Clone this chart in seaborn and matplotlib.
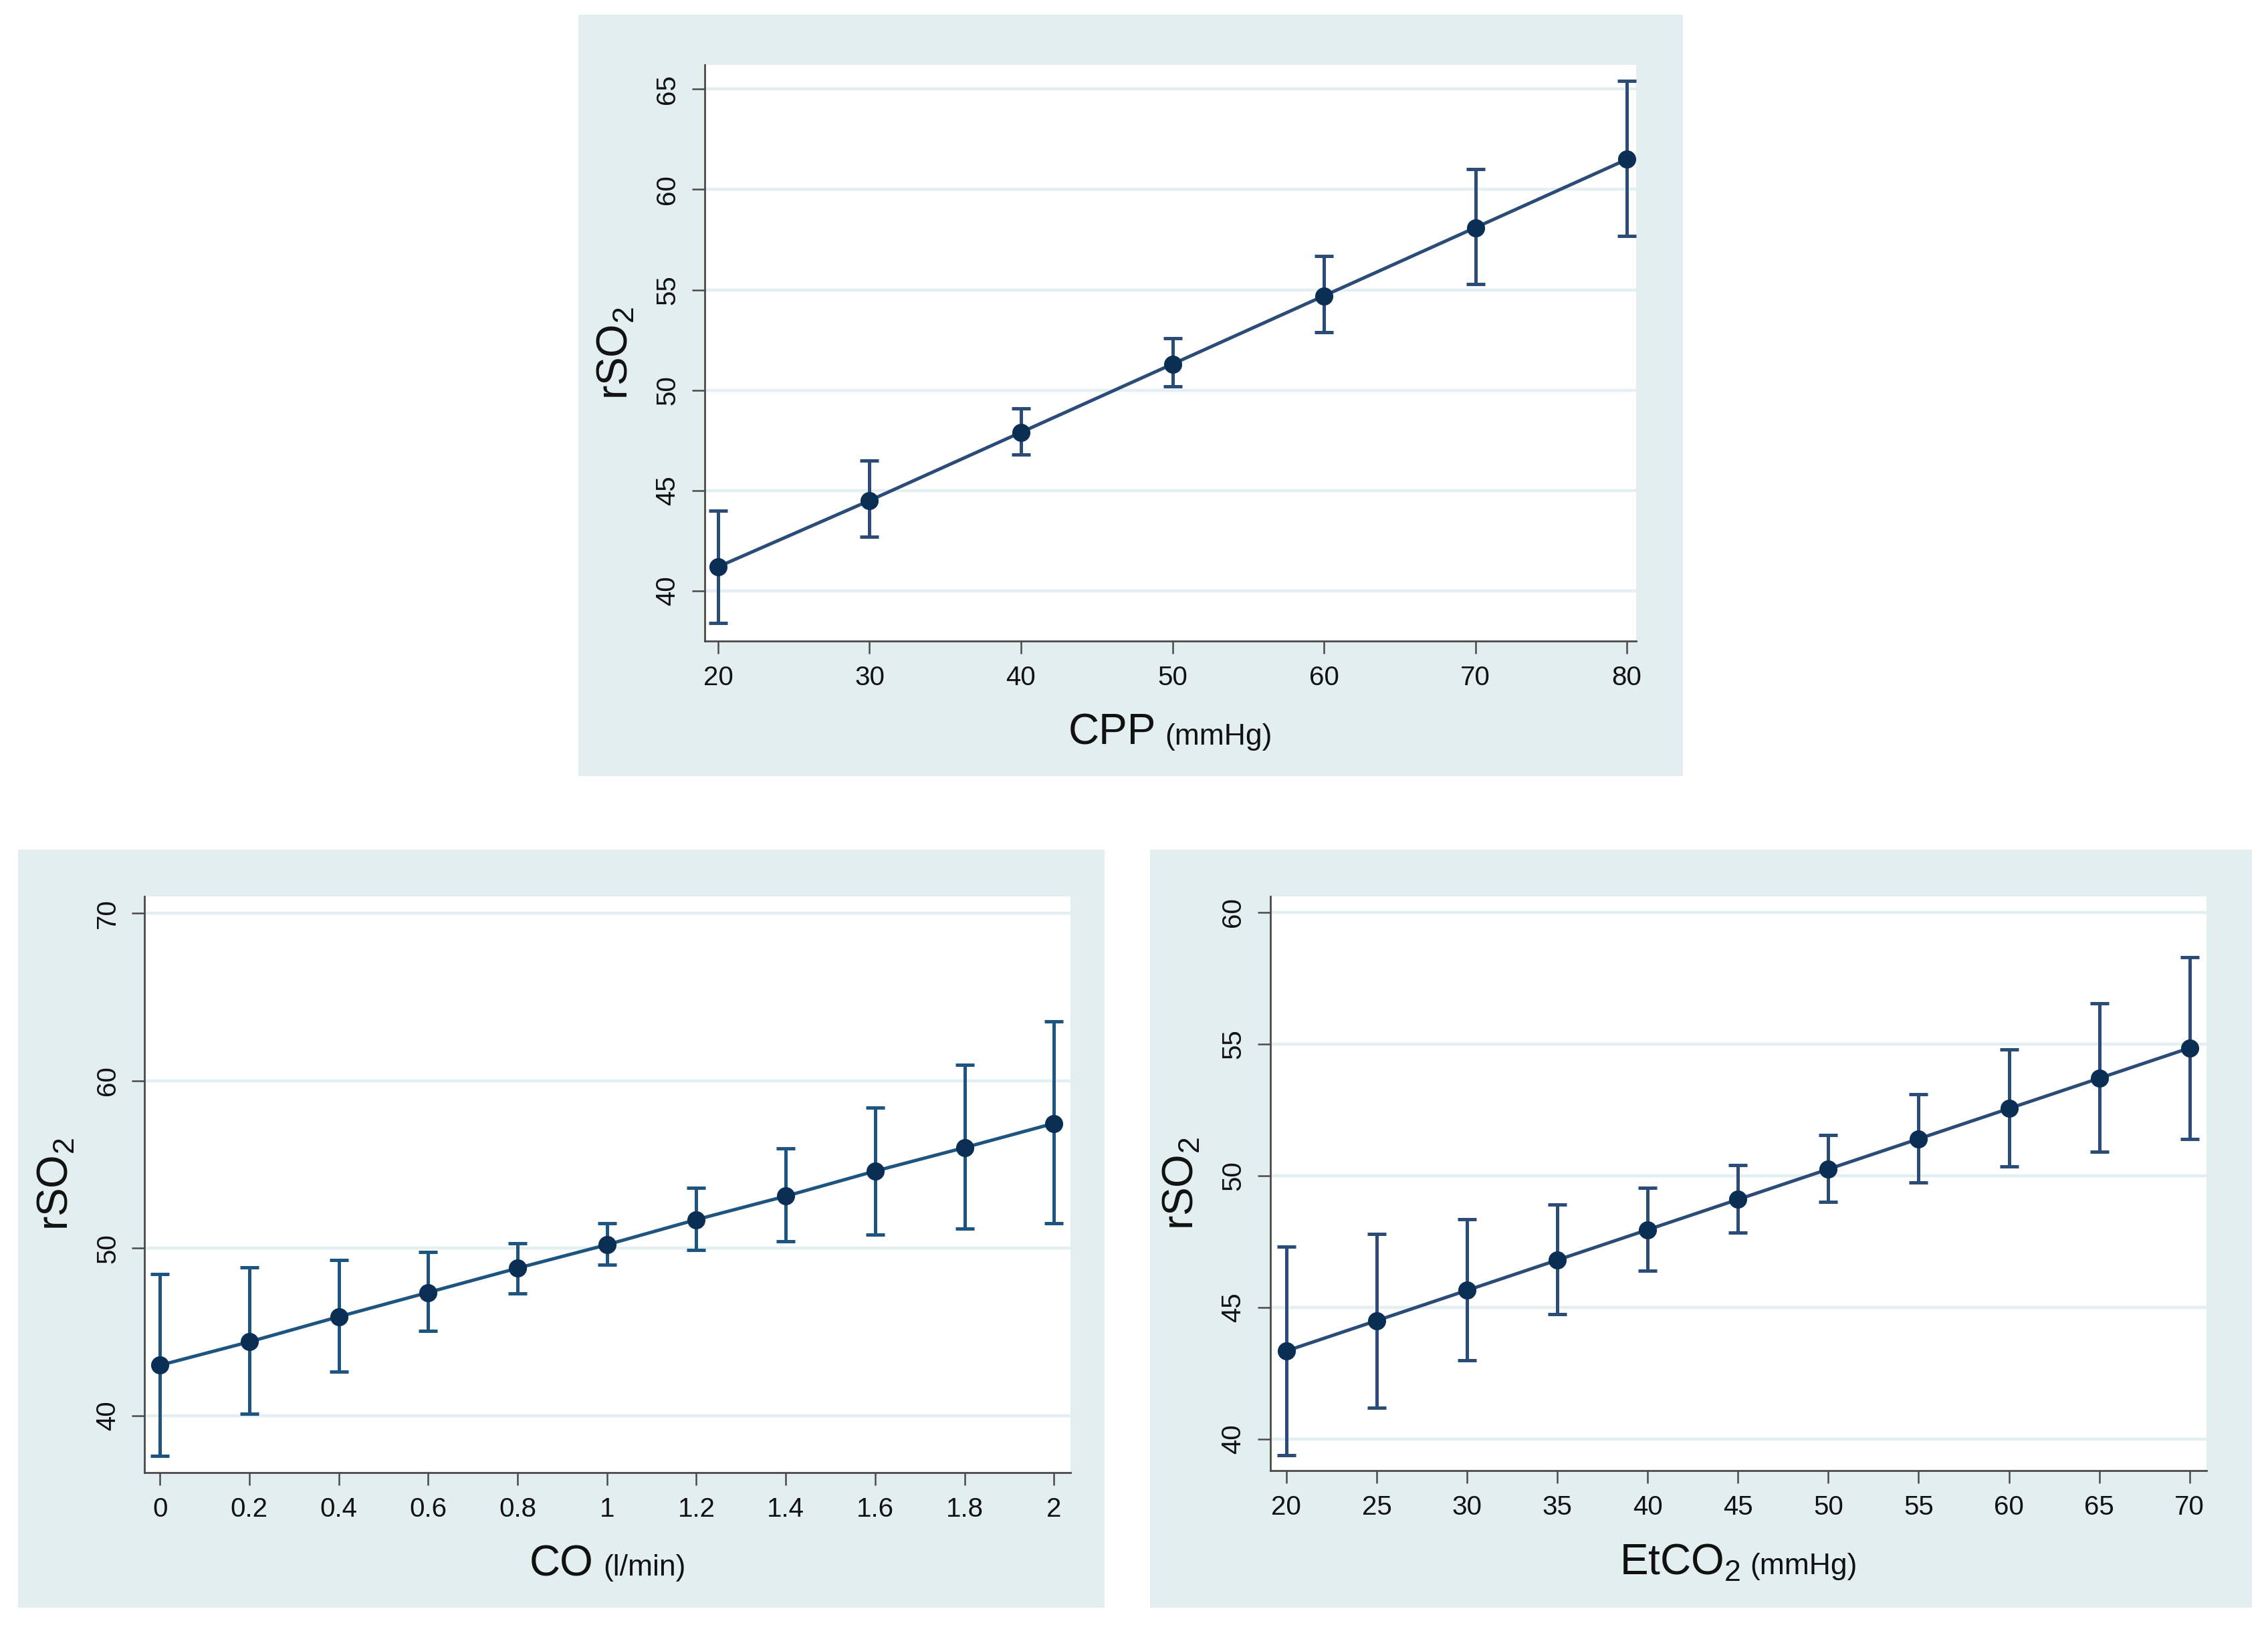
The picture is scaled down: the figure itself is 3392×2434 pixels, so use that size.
import matplotlib
matplotlib.use("Agg")
import matplotlib.pyplot as plt
import numpy as np
import pandas as pd
import seaborn as sns
from matplotlib.patches import Rectangle
from matplotlib.offsetbox import TextArea, HPacker, AnnotationBbox

# ---- data ----
cpp_x = [20, 30, 40, 50, 60, 70, 80]
cpp_y = [41.2, 44.5, 47.9, 51.3, 54.7, 58.1, 61.5]
cpp_lo = [38.4, 42.7, 46.8, 50.2, 52.9, 55.3, 57.7]
cpp_hi = [44.0, 46.5, 49.1, 52.6, 56.7, 61.0, 65.4]

co_x = [0, 0.2, 0.4, 0.6, 0.8, 1.0, 1.2, 1.4, 1.6, 1.8, 2.0]
co_y = [43.0, 44.4, 45.9, 47.35, 48.8, 50.2, 51.7, 53.1, 54.6, 56.0, 57.45]
co_lo = [37.6, 40.1, 42.6, 45.05, 47.3, 49.0, 49.9, 50.4, 50.8, 51.15, 51.5]
co_hi = [48.45, 48.85, 49.3, 49.75, 50.3, 51.5, 53.6, 55.95, 58.4, 60.95, 63.55]

etco2_x = [20, 25, 30, 35, 40, 45, 50, 55, 60, 65, 70]
etco2_y = [43.35, 44.5, 45.65, 46.8, 47.95, 49.1, 50.25, 51.4, 52.55, 53.7, 54.85]
etco2_lo = [39.4, 41.2, 43.0, 44.75, 46.4, 47.85, 49.0, 49.75, 50.35, 50.9, 51.4]
etco2_hi = [47.3, 47.8, 48.35, 48.9, 49.55, 50.4, 51.55, 53.1, 54.8, 56.55, 58.3]

BG = "#e2eeef"
GRID = "#e4eff1"
SPINE = "#4a4a4a"
MARK = "#0b2e55"

sns.set_theme(style="white")
plt.rcParams["font.family"] = ["Liberation Sans", "DejaVu Sans"]
plt.rcParams["mathtext.fontset"] = "custom"
plt.rcParams["mathtext.rm"] = "Liberation Sans"

fig = plt.figure(figsize=(16.96, 12.17), dpi=200, facecolor="white")

# shaded graph regions behind each plot
for (x0, y0, w, h) in [(0.255, 0.523, 0.487, 0.468),
                       (0.008, 0.012, 0.479, 0.466),
                       (0.507, 0.012, 0.486, 0.466)]:
    fig.patches.append(Rectangle((x0, y0), w, h, transform=fig.transFigure,
                                 facecolor=BG, edgecolor="none", zorder=-10))


def panel(rect, xs, ys, lo, hi, xlim, ylim, xticks, yticks, xlab, unit,
          line_color, xticklabels=None):
    ax = fig.add_axes(rect)
    ax.set_zorder(5)
    ax.set_facecolor("white")
    df = pd.DataFrame({"x": xs, "y": ys})
    ys_a = np.array(ys)
    ax.errorbar(xs, ys, yerr=[ys_a - np.array(lo), np.array(hi) - ys_a],
                fmt="none", ecolor=line_color, elinewidth=1.8, capsize=5,
                capthick=1.8, zorder=2)
    sns.lineplot(data=df, x="x", y="y", ax=ax, color=line_color, linewidth=1.8,
                 marker="o", markersize=9, markerfacecolor=MARK,
                 markeredgecolor=MARK, errorbar=None, zorder=3)
    ax.set_xlim(*xlim)
    ax.set_ylim(*ylim)
    ax.set_xticks(xticks)
    if xticklabels is not None:
        ax.set_xticklabels(xticklabels)
    ax.set_yticks(yticks)
    ax.yaxis.grid(True, color=GRID, linewidth=1.6)
    ax.xaxis.grid(False)
    ax.set_axisbelow(True)
    for s in ["top", "right"]:
        ax.spines[s].set_visible(False)
    for s in ["left", "bottom"]:
        ax.spines[s].set_color(SPINE)
        ax.spines[s].set_linewidth(1.0)
    ax.tick_params(axis="both", direction="out", length=7, width=0.9,
                   color=SPINE, labelsize=14.5, labelcolor="#111111", pad=6,
                   left=True, bottom=True)
    for lab in ax.get_yticklabels():
        lab.set_rotation(90)
        lab.set_va("center")
    ax.set_xlabel("")
    ax.set_ylabel("rSO$_2$", fontsize=23, color="#111111", labelpad=10)
    box = HPacker(children=[TextArea(xlab, textprops=dict(fontsize=23, color="#111111")),
                            TextArea(unit, textprops=dict(fontsize=16, color="#111111"))],
                  align="baseline", pad=0, sep=5)
    ab = AnnotationBbox(box, (0.5, -0.125), xycoords="axes fraction",
                        box_alignment=(0.5, 1.0), frameon=False)
    ax.add_artist(ab)
    return ax


panel([0.3106, 0.606, 0.4107, 0.354], cpp_x, cpp_y, cpp_lo, cpp_hi,
      (19.1, 80.6), (37.5, 66.2), [20, 30, 40, 50, 60, 70, 80],
      [40, 45, 50, 55, 60, 65], "CPP", "(mmHg)", "#2b4c77")

panel([0.0638, 0.095, 0.4082, 0.354], co_x, co_y, co_lo, co_hi,
      (-0.034, 2.037), (36.6, 71.0), co_x, [40, 50, 60, 70], "CO", "(l/min)",
      "#1d5480", xticklabels=["0", "0.2", "0.4", "0.6", "0.8", "1", "1.2",
                              "1.4", "1.6", "1.8", "2"])

panel([0.560, 0.096, 0.413, 0.353], etco2_x, etco2_y, etco2_lo, etco2_hi,
      (19.1, 70.95), (38.8, 60.6), etco2_x, [40, 45, 50, 55, 60],
      "EtCO$_2$", "(mmHg)", "#2b4c77")

fig.savefig("out.png", dpi=200, facecolor="white")
